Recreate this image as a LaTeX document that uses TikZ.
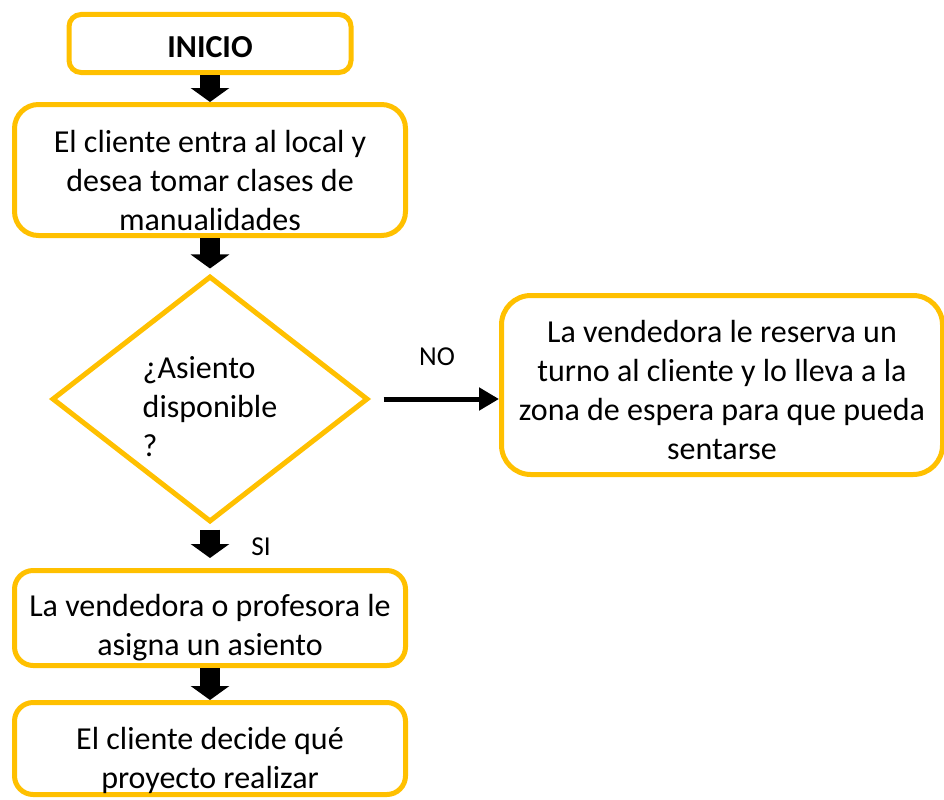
\documentclass[tikz,border=0pt]{standalone}
\usepackage{fontspec}
\setmainfont{Carlito}
\usetikzlibrary{shapes}
\usetikzlibrary{arrows.meta}
\definecolor{oro}{HTML}{FFC000}

\begin{document}
\begin{tikzpicture}[x=0.75pt,y=-0.75pt,
		caja/.style={draw=oro,line width=3.75pt,rounded corners=14pt,inner sep=0pt},
		rombo/.style={diamond,draw=oro,line width=3.75pt,inner sep=0pt},
		texto/.style={align=center,inner sep=0pt,font=\fontsize{24}{29.25}\selectfont},
		etiqueta/.style={inner sep=0pt,font=\fontsize{20.5}{24}\selectfont},
		bloque/.style={line width=15pt,-{Triangle[width=28.5pt,length=10.5pt]}},
		flecha/.style={line width=3.75pt,-{Triangle[width=16.5pt,length=15pt]}}]
		\useasboundingbox (0,0) rectangle (944,799);
		\node [caja,rounded corners=9pt,minimum width=211.5pt,minimum height=43.5pt,
			label={[texto,yshift=-3pt]center:\textbf{INICIO}}] (inicio) at (210,43.5) {};
		\node [caja,rounded corners=18pt,minimum width=293.25pt,minimum height=98.25pt,
			label={[texto,yshift=-8pt]center:{El cliente entra al local y\\desea tomar clases de\\manualidades}}] (cliente) at (210,170) {};
		\node [rombo,minimum width=237pt,minimum height=184.5pt,
			label={[texto,align=left,yshift=-6pt]center:{¿Asiento\\disponible\\?}}] (asiento) at (210,399) {};
		\node [caja,rounded corners=22pt,minimum width=330.75pt,minimum height=134.25pt,
			label={[texto,yshift=-3.75pt]center:{La vendedora le reserva un\\turno al cliente y lo lleva a la\\zona de espera para que pueda\\sentarse}}] (reserva) at (722,385) {};
		\node [caja,minimum width=293.25pt,minimum height=71.25pt,
			label={[texto,yshift=-7.5pt]center:{La vendedora o profesora le\\asigna un asiento}}] (asigna) at (210,618) {};
		\node [caja,minimum width=293.25pt,minimum height=69pt,
			label={[texto,yshift=-9pt]center:{El cliente decide qué\\proyecto realizar}}] (decide) at (210,748.5) {};
		\node [etiqueta] (no) at (437,357) {NO};
		\node [etiqueta] (si) at (261,547) {SI};
		\draw [bloque] (inicio) -- (cliente);
		\draw [bloque,shorten >=3.75pt] (cliente) -- (asiento);
		\draw [bloque,shorten <=3.75pt,shorten >=7.5pt] (asiento) -- (asigna);
		\draw [bloque] (asigna) -- (decide);
		\draw [flecha,shorten <=9.75pt] (asiento) -- (asiento -| reserva.west);
	\end{tikzpicture}
\end{document}
